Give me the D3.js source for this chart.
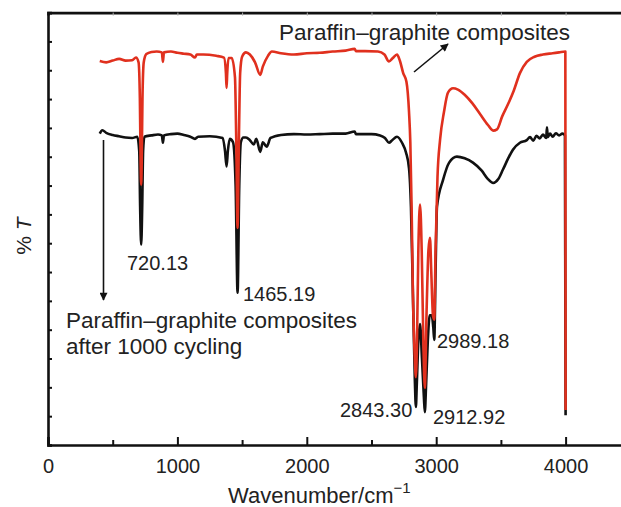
<!DOCTYPE html>
<html>
<head>
<meta charset="utf-8">
<script src="https://cdn.jsdelivr.net/npm/d3@7"></script>
<style>
  body { margin: 0; background: #fff; }
  text { font-family: "Liberation Sans", Arial, sans-serif; fill: #222; }
</style>
</head>
<body>
<svg id="canvas" width="621" height="507"></svg>
<script>
// wavenumber (cm-1) and %T
const redWave = [400, 450, 500, 550, 600, 650, 680, 700, 710, 716, 720, 724, 730, 740, 760, 800, 840, 880, 888, 896, 950,
  1000, 1050, 1100, 1136, 1150, 1200, 1300, 1360, 1375, 1380, 1385, 1395, 1420, 1445, 1455, 1465, 1475, 1485, 1500,
  1530, 1560, 1600, 1640, 1660, 1700, 1730, 1800, 1900, 2000, 2100, 2200, 2300, 2370, 2380, 2450, 2550, 2600, 2635,
  2665, 2697, 2720, 2745, 2770, 2790, 2800, 2810, 2820, 2835, 2843, 2852, 2862, 2875, 2888, 2900, 2912, 2925, 2940,
  2952, 2962, 2975, 2985, 2995, 3010, 3030, 3060, 3091, 3130, 3168, 3220, 3280, 3340, 3400, 3440, 3470, 3510, 3550,
  3600, 3647, 3700, 3760, 3825, 3900, 3950, 3998, 4000];
const redT = [88.8, 88.5, 88.9, 89.3, 88.9, 89.0, 89.6, 88.5, 80, 65, 60.2, 65, 80, 88.5, 90.4, 90.9, 91.0, 90.8, 88.6, 90.8, 91.0,
  90.7, 90.5, 90.3, 89.6, 90.3, 90.3, 90.0, 89.6, 86, 82.6, 86, 89.5, 89.5, 85, 70, 50.2, 70, 86, 89.8,
  90.8, 90.3, 88.5, 85.6, 87.5, 90, 91, 90.6, 90.3, 90.6, 90.7, 91.0, 91.2, 91.6, 91.1, 91.1, 91.0, 90.3, 88.7,
  89.5, 90.3, 88.8, 86, 84, 77, 70, 55, 35, 20, 15.7, 25, 45, 55.6, 45, 25, 13.2, 30, 45,
  47.9, 40, 30, 29, 45, 62, 70.6, 77, 81.5, 82.5, 82.2, 81, 79, 76.5, 74, 72.7, 73, 76, 78.5,
  82, 86, 88.6, 89.8, 90.3, 90.6, 90.8, 91.0, 8.1];

const blackWave = [400, 420, 450, 500, 550, 600, 650, 690, 705, 712, 720, 728, 735, 745, 800, 850, 880, 888, 896, 950,
  1000, 1050, 1100, 1136, 1160, 1250, 1350, 1368, 1380, 1390, 1405, 1430, 1450, 1465, 1478, 1490, 1510, 1530, 1560,
  1590, 1610, 1640, 1660, 1690, 1720, 1800, 1900, 2000, 2100, 2200, 2300, 2370, 2380, 2500, 2566, 2604, 2635, 2660,
  2697, 2736, 2767, 2790, 2805, 2820, 2835, 2843, 2850, 2862, 2875, 2890, 2905, 2912, 2922, 2935, 2950, 2965, 2978,
  2985, 2995, 3006, 3053, 3100, 3160, 3220, 3284, 3350, 3400, 3440, 3480, 3516, 3560, 3593, 3647, 3700, 3725, 3750,
  3775, 3800, 3825, 3850, 3856, 3862, 3880, 3900, 3925, 3950, 3975, 3995, 4000];
const blackT = [72.0, 72.8, 72.2, 71.7, 71.4, 71.1, 71.0, 71.3, 68, 55, 46.3, 55, 68, 71.3, 71.6, 71.8, 71.6, 69.9, 71.6, 71.9,
  72.0, 71.7, 71.3, 70.8, 71.3, 71.4, 71.0, 68, 64.4, 68, 70.8, 70, 60, 35.2, 60, 70, 71.1, 71.1, 70.5,
  69.5, 70.8, 67.8, 70, 69, 71, 71.7, 71.9, 71.8, 71.9, 72.0, 72.0, 72.5, 71.9, 71.9, 71.6, 71.0, 69.9, 70.5,
  71.3, 69.9, 67.6, 64, 55, 35, 15, 8.8, 14, 24, 28, 20, 11, 7.6, 14, 24, 30, 30, 27,
  24.3, 40, 55.1, 61.3, 65.3, 66.7, 66.3, 65.3, 63.5, 61.5, 60.6, 61.5, 63.7, 66.5, 68.3, 69.9, 70.5, 71.2, 70.4,
  71.5, 70.9, 71.8, 71.0, 73.5, 71.2, 72.0, 71.3, 72.1, 71.6, 72.0, 71.6, 6.9];

const peakLabels = ["720.13", "1465.19", "2843.30", "2912.92", "2989.18"];
const xTickLabels = ["0", "1000", "2000", "3000", "4000"];

const svg = d3.select('#canvas');

const x = d3.scaleLinear().domain([0, 4500]).range([48, 630.3]);
const y = d3.scaleLinear().domain([0, 100]).range([445, 12.6]);

// spectra
const line = d3.line().x(d => x(d[0])).y(d => y(d[1])).curve(d3.curveMonotoneX);
const black = blackWave.map((w, i) => [w, blackT[i]]);
const red = redWave.map((w, i) => [w, redT[i]]);

svg.append('path').datum(black)
    .attr('d', line)
    .attr('fill', 'none')
    .attr('stroke', '#111')
    .attr('stroke-width', 2.6)
    .attr('stroke-linejoin', 'round');
svg.append('path').datum(red)
    .attr('d', line)
    .attr('fill', 'none')
    .attr('stroke', '#e0301e')
    .attr('stroke-width', 2.6)
    .attr('stroke-linejoin', 'round');

// axes
const xMajor = d3.axisBottom(x).tickValues([0, 1000, 2000, 3000, 4000])
    .tickSize(-8).tickPadding(14).tickFormat((d, i) => xTickLabels[i]);
const xMinor = d3.axisBottom(x).tickValues([500, 1500, 2500, 3500]).tickSize(-5).tickFormat('');
const gx = svg.append('g').attr('transform', 'translate(0,445)').call(xMajor);
svg.append('g').attr('transform', 'translate(0,445)').call(xMinor).select('.domain').remove();
gx.selectAll('text').attr('font-size', 20).attr('fill', '#222');

const xTop = d3.axisTop(x).tickValues([500, 1000, 1500, 2000, 2500, 3000, 3500, 4000]).tickSize(-3).tickFormat('');
const gt = svg.append('g').attr('transform', 'translate(0,12.6)').call(xTop);
gt.selectAll('.tick line').attr('stroke', '#aaa');

const yTicks = d3.range(16).map(i => i * 100 / 15);
const gy = svg.append('g').attr('transform', 'translate(48,0)')
    .call(d3.axisLeft(y).tickValues(yTicks).tickSize(-4).tickFormat(''));

svg.selectAll('.domain').attr('stroke', '#111').attr('stroke-width', 2.6);
svg.selectAll('.tick line').filter(function () { return d3.select(this).attr('stroke') !== '#aaa'; })
    .attr('stroke', '#111').attr('stroke-width', 2);

// axis titles
const xt = svg.append('text').attr('x', 228).attr('y', 503).attr('font-size', 22);
xt.append('tspan').text('Wavenumber/cm');
xt.append('tspan').attr('dy', -10).attr('font-size', 15).text('\u22121');

const yt = svg.append('text').attr('transform', 'translate(31,236) rotate(-90)')
    .attr('text-anchor', 'middle').attr('font-size', 21);
yt.append('tspan').text('% ');
yt.append('tspan').attr('font-style', 'italic').text('T');

// peak labels
const peakPos = [[127, 270], [243, 301], [340, 417], [433, 424], [437, 348]];
svg.selectAll('text.peak').data(peakLabels).enter().append('text')
    .attr('class', 'peak')
    .attr('x', (d, i) => peakPos[i][0])
    .attr('y', (d, i) => peakPos[i][1])
    .attr('font-size', 20)
    .text(d => d);

// legends with arrows
svg.append('text').attr('x', 279).attr('y', 40).attr('font-size', 22.5)
    .text('Paraffin\u2013graphite composites');
svg.append('text').attr('x', 66).attr('y', 328).attr('font-size', 22.5)
    .text('Paraffin\u2013graphite composites');
svg.append('text').attr('x', 66).attr('y', 354).attr('font-size', 22.5)
    .text('after 1000 cycling');

svg.append('defs').append('marker')
    .attr('id', 'head').attr('viewBox', '0 0 10 10')
    .attr('refX', 9).attr('refY', 5)
    .attr('markerWidth', 11).attr('markerHeight', 8)
    .attr('markerUnits', 'userSpaceOnUse')
    .attr('orient', 'auto')
    .append('path').attr('d', 'M0,0 L10,5 L0,10 Z').attr('fill', '#111');

svg.append('line').attr('x1', 414).attr('y1', 72).attr('x2', 448).attr('y2', 44)
    .attr('stroke', '#111').attr('stroke-width', 1.6).attr('marker-end', 'url(#head)');
svg.append('line').attr('x1', 103.5).attr('y1', 140).attr('x2', 103.5).attr('y2', 300)
    .attr('stroke', '#111').attr('stroke-width', 1.6).attr('marker-end', 'url(#head)');
</script>
</body>
</html>
